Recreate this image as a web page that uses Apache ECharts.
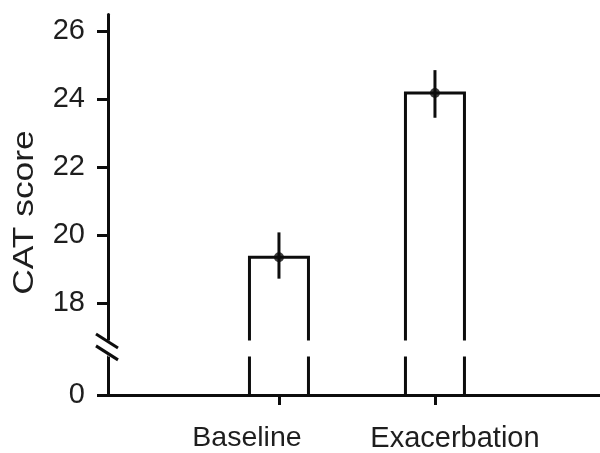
<!DOCTYPE html>
<html>
<head>
<meta charset="utf-8">
<script src="https://cdn.jsdelivr.net/npm/echarts@6/dist/echarts.min.js"></script>
<style>html,body{margin:0;padding:0;background:#fff;}#c{width:600px;height:453px;}</style>
</head>
<body>
<div id="c"></div>
<script>
const categories = ['Baseline', 'Exacerbation'];
const meanScore = [19.35, 24.18];
const errLow = [18.72, 23.45];
const errHigh = [20.08, 24.85];
const yTickValues = [0, 18, 20, 22, 24, 26];
const yTitle = 'CAT score';
const breakStart = 1.15;
const breakEnd = 16.92;

const catIdx = categories.map((c, i) => i + 1);
const barData = catIdx.map((x, i) => [x, meanScore[i]]);
const errData = catIdx.map((x, i) => [x, errLow[i], errHigh[i]]);

const INK = '#0d0d0d';
const TXT = '#1e1e1e';
const FONT = '"Liberation Sans", Arial, Helvetica, sans-serif';
const BAR_HALF = 29.5;

const chart = echarts.init(document.getElementById('c'), null, {renderer: 'canvas'});
chart.setOption({
  animation: false,
  backgroundColor: '#fff',
  grid: {left: 108, right: 0, top: 14, bottom: 58, containLabel: false},
  xAxis: {
    type: 'value',
    min: -0.096,
    max: 3.058,
    axisLine: {show: true, onZero: false, lineStyle: {color: INK, width: 3}},
    axisTick: {show: true, customValues: catIdx, length: 10, lineStyle: {color: INK, width: 3}},
    axisLabel: {
      customValues: catIdx, margin: 29,
      formatter: v => {
        const i = Math.round(v) - 1;
        return i === 0 ? '{l|' + categories[0] + '}' : '{r|' + (categories[i] || '') + '}';
      },
      rich: {
        l: {color: TXT, fontSize: 28.5, fontFamily: FONT, padding: [0, 64, 0, 0]},
        r: {color: TXT, fontSize: 29, fontFamily: FONT, padding: [0, 0, 0, 40]}
      },
      color: TXT, fontSize: 28.5, fontFamily: FONT
    },
    splitLine: {show: false}
  },
  yAxis: {
    type: 'value',
    min: 0,
    max: 26.5,
    breaks: [{start: breakStart, end: breakEnd, gap: 0.47}],
    breakArea: {
      show: true,
      itemStyle: {color: '#fff', borderColor: '#fff', borderWidth: 0, opacity: 1},
      zigzagAmplitude: 0,
      zigzagZ: 100,
      expandOnClick: false
    },
    axisLine: {show: true, onZero: false, lineStyle: {color: INK, width: 3}},
    axisTick: {show: true, customValues: yTickValues, length: 11, lineStyle: {color: INK, width: 3}},
    axisLabel: {customValues: yTickValues, margin: 23, color: TXT, fontSize: 29, fontFamily: FONT},
    splitLine: {show: false}
  },
  series: [
    {
      type: 'custom',
      data: barData,
      encode: {x: 0, y: 1},
      renderItem: function (params, api) {
        const x = api.value(0);
        const base = api.coord([x, 0]);
        const top = api.coord([x, api.value(1)]);
        return {
          type: 'polyline',
          shape: {points: [
            [base[0] - BAR_HALF, base[1]],
            [base[0] - BAR_HALF, top[1]],
            [base[0] + BAR_HALF, top[1]],
            [base[0] + BAR_HALF, base[1]]
          ]},
          style: {stroke: INK, lineWidth: 3, fill: null, lineJoin: 'miter'}
        };
      },
      z: 2
    },
    {
      type: 'custom',
      data: errData,
      encode: {x: 0, y: [1, 2]},
      renderItem: function (params, api) {
        const x = api.value(0);
        const p1 = api.coord([x, api.value(1)]);
        const p2 = api.coord([x, api.value(2)]);
        return {
          type: 'line',
          shape: {x1: p1[0], y1: p1[1], x2: p2[0], y2: p2[1]},
          style: {stroke: INK, lineWidth: 3}
        };
      },
      z: 3
    },
    {
      type: 'scatter',
      data: barData,
      symbol: 'circle',
      symbolSize: 10,
      itemStyle: {color: INK},
      z: 4
    }
  ]
});

// axis break marks on the y axis line and the y title
const yTopGap = chart.convertToPixel({yAxisIndex: 0}, breakEnd);
const yBotGap = chart.convertToPixel({yAxisIndex: 0}, breakStart);
const ax = chart.convertToPixel({xAxisIndex: 0}, -0.096);
const yMid = (chart.convertToPixel({yAxisIndex: 0}, 0) + chart.convertToPixel({yAxisIndex: 0}, 26.5)) / 2;
const m1 = yTopGap + 1.5;
const m2 = yBotGap - 2.5;
chart.setOption({
  graphic: [
    {type: 'rect', z: 200, shape: {x: ax - 4, y: m1, width: 8, height: m2 - m1}, style: {fill: '#fff'}},
    {type: 'line', z: 201, shape: {x1: ax - 12, y1: m1 - 7.5, x2: ax + 10, y2: m1 + 6.5}, style: {stroke: INK, lineWidth: 3}},
    {type: 'line', z: 201, shape: {x1: ax - 12, y1: m2 - 7.5, x2: ax + 10, y2: m2 + 6.5}, style: {stroke: INK, lineWidth: 3}},
    {
      type: 'text', z: 50, x: 25, y: yMid + 8, rotation: Math.PI / 2, scaleX: 1.18,
      style: {text: yTitle, fill: TXT, font: '30px ' + FONT, align: 'center', verticalAlign: 'middle'}
    }
  ]
});
</script>
</body>
</html>
